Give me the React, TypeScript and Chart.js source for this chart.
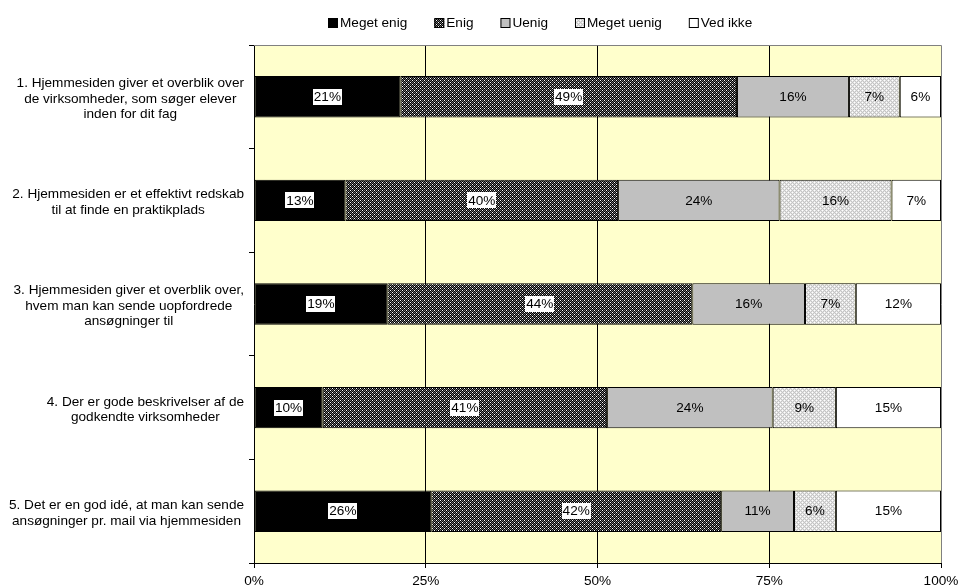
import React, { useEffect, useRef } from "react";
import { Chart, registerables } from "chart.js";

Chart.register(...registerables);

const categories: string[][] = [
  ["1. Hjemmesiden giver et overblik over", "de virksomheder, som søger elever", "inden for dit fag"],
  ["2. Hjemmesiden er et effektivt redskab", "til at finde en praktikplads"],
  ["3. Hjemmesiden giver et overblik over,", "hvem man kan sende uopfordrede", "ansøgninger til"],
  ["4. Der er gode beskrivelser af de", "godkendte virksomheder"],
  ["5. Det er en god idé, at man kan sende", "ansøgninger pr. mail via hjemmesiden"],
];

const seriesNames = ["Meget enig", "Enig", "Uenig", "Meget uenig", "Ved ikke"];
const megetEnig = [21.3, 13.3, 19.4, 10.0, 25.8];
const enig = [49.0, 39.7, 44.4, 41.4, 42.2];
const uenig = [16.3, 23.5, 16.4, 24.1, 10.6];
const megetUenig = [7.4, 16.3, 7.4, 9.2, 6.1];
const vedIkke = [6.0, 7.2, 12.4, 15.3, 15.3];

const xTicks = [0, 25, 50, 75, 100];

const FONT = '"Liberation Sans", Arial, sans-serif';
const FS = 13.6;

function makePattern(rows: string[][]): CanvasPattern | string {
  const c = document.createElement("canvas");
  c.width = rows[0].length;
  c.height = rows.length;
  const g = c.getContext("2d")!;
  rows.forEach((r, y) =>
    r.forEach((col, x) => {
      g.fillStyle = col;
      g.fillRect(x, y, 1, 1);
    })
  );
  const ctx = document.createElement("canvas").getContext("2d")!;
  return ctx.createPattern(c, "repeat") || "#666";
}

export default function App() {
  const ref = useRef<HTMLCanvasElement>(null);

  useEffect(() => {
    document.body.style.margin = "0";
    document.documentElement.style.overflow = "hidden";
    const K = "#000000", W = "#ffffff", G = "#707070";
    const enigPattern = makePattern([
      [W, K, G, K],
      [K, G, K, G],
      [G, K, W, K],
      [K, G, K, G],
    ]);
    const L = "#e4e4e4", D = "#c4c4c4";
    const muPattern = makePattern([
      [W, L, D, L],
      [L, D, L, D],
      [D, L, W, L],
      [L, D, L, D],
    ]);
    const fills: any[] = ["#000000", enigPattern, "#c0c0c0", muPattern, "#ffffff"];
    const values = [megetEnig, enig, uenig, megetUenig, vedIkke];

    const bgPlugin = {
      id: "bg",
      beforeDraw(chart: any) {
        const { ctx, chartArea: a } = chart;
        ctx.save();
        ctx.fillStyle = "#ffffcc";
        ctx.fillRect(a.left, a.top, a.right - a.left, a.bottom - a.top);
        ctx.restore();
      },
      afterDraw(chart: any) {
        const { ctx, chartArea: a } = chart;
        ctx.save();
        ctx.strokeStyle = "#808080";
        ctx.lineWidth = 1;
        ctx.beginPath();
        ctx.moveTo(a.left, a.top + 0.5);
        ctx.lineTo(a.right + 0.5, a.top + 0.5);
        ctx.lineTo(a.right + 0.5, a.bottom);
        ctx.stroke();
        ctx.restore();
      },
    };

    const labelPlugin = {
      id: "labels",
      afterDatasetsDraw(chart: any) {
        const { ctx } = chart;
        ctx.save();
        ctx.font = `${FS}px ${FONT}`;
        ctx.textAlign = "center";
        ctx.textBaseline = "middle";
        chart.data.datasets.forEach((ds: any, di: number) => {
          const meta = chart.getDatasetMeta(di);
          meta.data.forEach((el: any, i: number) => {
            const v = ds.data[i];
            const txt = Math.round(v) + "%";
            const cx = (el.x + el.base) / 2;
            const cy = el.y;
            const w = ctx.measureText(txt).width;
            if (di < 2) {
              ctx.fillStyle = "#ffffff";
              ctx.fillRect(Math.round(cx - w / 2 - 1), Math.round(cy - 8), Math.round(w + 2), 16);
            }
            ctx.fillStyle = "#000000";
            ctx.fillText(txt, cx, cy + 0.5);
          });
        });
        ctx.restore();
      },
      afterDraw(chart: any) {
        const { ctx, chartArea: a } = chart;
        const ys = chart.scales.y;
        ctx.save();
        ctx.font = `${FS}px ${FONT}`;
        ctx.textAlign = "center";
        ctx.textBaseline = "middle";
        ctx.fillStyle = "#000000";
        const right = a.left - 10;
        categories.forEach((lines, i) => {
          const cy = ys.getPixelForValue(i);
          const maxW = Math.max(...lines.map((l) => ctx.measureText(l).width));
          const cx = right - maxW / 2;
          const lh = 15.5;
          const start = cy - ((lines.length - 1) * lh) / 2 + 2;
          lines.forEach((l, j) => ctx.fillText(l, cx, start + j * lh));
        });
        // legend
        let x = 328;
        const yc = 23;
        seriesNames.forEach((n, i) => {
          ctx.fillStyle = fills[i];
          ctx.fillRect(x, yc - 5, 10, 10);
          ctx.strokeStyle = "#000";
          ctx.lineWidth = 1;
          ctx.strokeRect(x + 0.5, yc - 4.5, 9, 9);
          ctx.fillStyle = "#000";
          ctx.textAlign = "left";
          ctx.fillText(n, x + 12, yc + 0.5);
          x += 12 + ctx.measureText(n).width + 27;
        });
        ctx.restore();
      },
    };

    const chart = new Chart(ref.current!, {
      type: "bar",
      data: {
        labels: categories.map((c) => c.join(" ")),
        datasets: seriesNames.map((n, i) => ({
          label: n,
          data: values[i],
          backgroundColor: fills[i],
          borderColor: "#000000",
          borderWidth: 1,
          borderSkipped: false,
          barPercentage: 0.4,
          categoryPercentage: 1,
        })),
      },
      options: {
        indexAxis: "y",
        animation: false,
        responsive: true,
        maintainAspectRatio: false,
        devicePixelRatio: 1,
        layout: { padding: { top: 45, right: 18, left: 0, bottom: 0 } },
        plugins: {
          legend: { display: false },
          tooltip: { enabled: false },
        },
        scales: {
          x: {
            stacked: true,
            min: 0,
            max: 100,
            afterBuildTicks(s: any) {
              s.ticks = xTicks.map((v) => ({ value: v }));
            },
            afterFit(s: any) {
              s.height = 24;
              s.paddingRight = 0;
              s.paddingLeft = 0;
            },
            ticks: {
              callback: (v: any) => v + "%",
              color: "#000",
              font: { family: FONT, size: FS },
              padding: 5,
              maxRotation: 0,
            },
            grid: {
              color: (c: any) => (c.tick && (c.tick.value === 0 || c.tick.value === 100) ? "rgba(0,0,0,0)" : "#000000"),
              tickColor: "#000000",
              tickLength: 5,
              lineWidth: 1,
            },
            border: { color: "#000000", width: 1 },
          },
          y: {
            stacked: true,
            afterFit(s: any) {
              s.width = 254;
            },
            ticks: { display: false },
            grid: {
              offset: true,
              drawOnChartArea: false,
              drawTicks: true,
              tickLength: 5,
              color: "#000000",
              tickColor: "#000000",
            },
            border: { color: "#000000", width: 1 },
          },
        },
      } as any,
      plugins: [bgPlugin, labelPlugin],
    });
    return () => chart.destroy();
  }, []);

  return (
    <div style={{ width: 959, height: 587, position: "relative" }}>
      <canvas ref={ref} />
    </div>
  );
}
